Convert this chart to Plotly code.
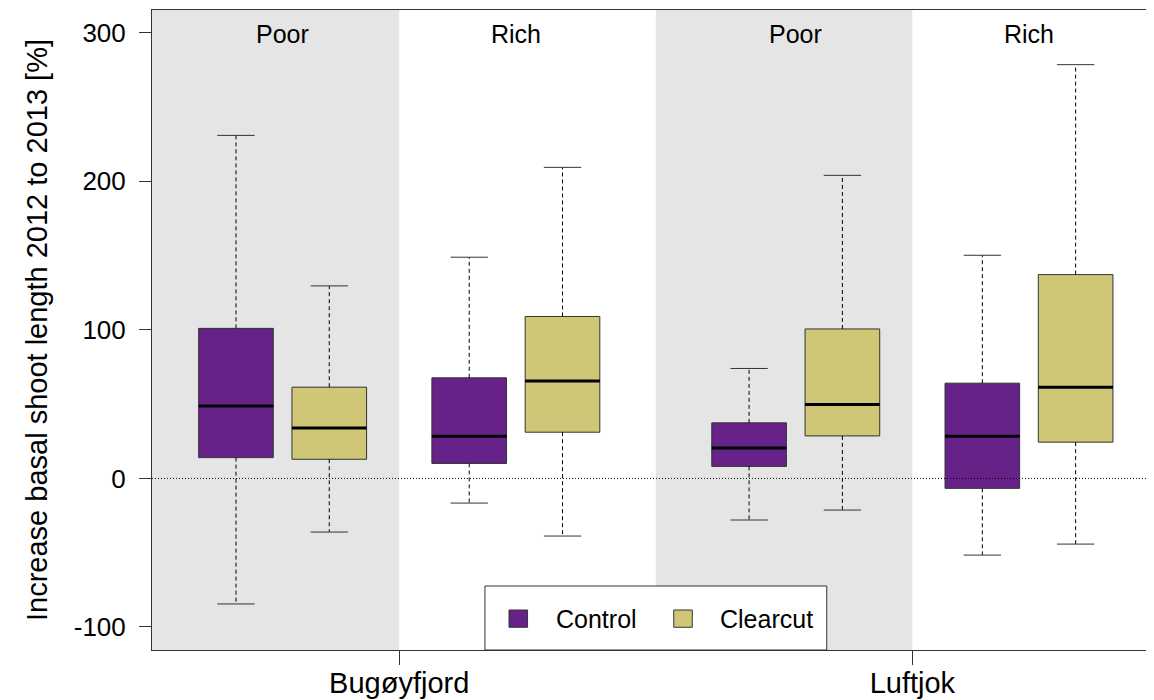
import plotly.graph_objects as go

# ---------------- data ----------------
sites = ["Bugøyfjord", "Luftjok"]
habitats = ["Poor", "Rich", "Poor", "Rich"]
treatments = ["Control", "Clearcut"]

# box positions (R-style 'at' positions)
pos_control = [1.0, 3.5, 6.5, 9.0]
pos_clearcut = [2.0, 4.5, 7.5, 10.0]

# five-number summaries, order: Bugøyfjord Poor, Bugøyfjord Rich, Luftjok Poor, Luftjok Rich
ctrl_lower = [-84.5, -16.6, -28.0, -51.6]
ctrl_q1 = [14.0, 10.1, 8.1, -6.7]
ctrl_median = [48.7, 28.3, 20.5, 28.3]
ctrl_q3 = [101.0, 67.7, 37.4, 64.1]
ctrl_upper = [230.9, 148.9, 74.0, 150.2]

clr_lower = [-36.1, -38.8, -21.3, -44.2]
clr_q1 = [12.9, 31.1, 28.6, 24.4]
clr_median = [34.0, 65.6, 49.8, 61.4]
clr_q3 = [61.4, 109.0, 100.6, 137.2]
clr_upper = [129.6, 209.4, 204.0, 278.5]

y_ticks = [-100, 0, 100, 200, 300]
y_ticktext = ["-100", "0", "100", "200", "300"]

# ---------------- style ----------------
FONT = "Liberation Sans, Arial, sans-serif"
FS = 25
PURPLE = "#662288"
YELLOW = "#CFC775"
EDGE = "#333333"
BOXW = 0.8
CAPW = 0.4

fig = go.Figure()

def add_series(pos, lo, q1, med, q3, hi, color, name):
    fig.add_trace(go.Box(
        x=pos, q1=q1, median=med, q3=q3, lowerfence=q1, upperfence=q3,
        width=BOXW, fillcolor=color, line=dict(color=EDGE, width=1),
        boxpoints=False, whiskerwidth=0, name=name, showlegend=False,
        hoverinfo="skip",
    ))
    wx, wy, cx, cy, mx, my = [], [], [], [], [], []
    for p, a, b, m, c, d in zip(pos, lo, q1, med, q3, hi):
        wx += [p, p, None, p, p, None]
        wy += [c, d, None, b, a, None]
        cx += [p - CAPW / 2, p + CAPW / 2, None, p - CAPW / 2, p + CAPW / 2, None]
        cy += [d, d, None, a, a, None]
        mx += [p - BOXW / 2, p + BOXW / 2, None]
        my += [m, m, None]
    fig.add_trace(go.Scatter(x=wx, y=wy, mode="lines", showlegend=False, hoverinfo="skip",
                             line=dict(color="black", width=1, dash="4px,3px")))
    fig.add_trace(go.Scatter(x=cx, y=cy, mode="lines", showlegend=False, hoverinfo="skip",
                             line=dict(color=EDGE, width=1)))
    fig.add_trace(go.Scatter(x=mx, y=my, mode="lines", showlegend=False, hoverinfo="skip",
                             line=dict(color="black", width=3)))

add_series(pos_control, ctrl_lower, ctrl_q1, ctrl_median, ctrl_q3, ctrl_upper, PURPLE, treatments[0])
add_series(pos_clearcut, clr_lower, clr_q1, clr_median, clr_q3, clr_upper, YELLOW, treatments[1])

XMIN, XMAX = 0.1, 10.84
# group boundaries and label positions derived from box positions
all_pos = [p for pair in zip(pos_control, pos_clearcut) for p in pair]
bounds = [XMIN] + [(all_pos[2 * i + 1] + all_pos[2 * i + 2]) / 2 for i in range(3)] + [XMAX]
hab_centers = [(a + b) / 2 for a, b in zip(pos_control, pos_clearcut)]
site_centers = [bounds[1], bounds[3]]

shapes = []
for i in (0, 2):
    shapes.append(dict(type="rect", xref="x", yref="paper", x0=bounds[i], x1=bounds[i + 1],
                       y0=0, y1=1, fillcolor="#E5E5E5", line=dict(width=0), layer="below"))
shapes.append(dict(type="line", xref="paper", yref="y", x0=0, x1=1, y0=0, y1=0,
                   line=dict(color="black", width=1, dash="1px,2px"), layer="above"))

# legend (drawn manually in R style)
L0, L1 = 0.3323, 0.6734
shapes.append(dict(type="rect", xref="paper", yref="paper", x0=L0, x1=L1, y0=0, y1=0.1,
                   fillcolor="white", line=dict(color=EDGE, width=1), layer="above"))
sq = [(0.3563, PURPLE), (0.5207, YELLOW)]
for x0, col in sq:
    shapes.append(dict(type="rect", xref="paper", yref="paper", x0=x0, x1=x0 + 0.0185,
                       y0=0.0355, y1=0.0625, fillcolor=col, line=dict(color=EDGE, width=1),
                       layer="above"))

annotations = []
for xc, h in zip(hab_centers, habitats):
    annotations.append(dict(x=xc, y=1, xref="x", yref="paper", text=h, showarrow=False,
                            yanchor="top", yshift=-8, font=dict(family=FONT, size=FS, color="black")))
for xt, t in zip([0.4012, 0.5649], treatments):
    annotations.append(dict(x=xt, y=0.0484, xref="paper", yref="paper", text=t, showarrow=False,
                            xanchor="left", yanchor="middle",
                            font=dict(family=FONT, size=FS, color="black")))

fig.update_layout(
    width=1146, height=692,
    margin=dict(l=144, r=0, t=2, b=50, autoexpand=False),
    paper_bgcolor="white", plot_bgcolor="white",
    font=dict(family=FONT, size=FS, color="black"),
    shapes=shapes, annotations=annotations, showlegend=False,
    xaxis=dict(range=[XMIN, XMAX], tickvals=site_centers, ticktext=sites,
               ticks="outside", ticklen=14, tickcolor=EDGE, showgrid=False, zeroline=False,
               showline=True, mirror=True, linecolor=EDGE, linewidth=1,
               ticklabelstandoff=-7,
               automargin=False, tickfont=dict(family=FONT, size=29)),
    yaxis=dict(range=[-115.5, 315.3], tickvals=y_ticks, ticktext=y_ticktext,
               ticks="outside", ticklen=12,
               tickcolor=EDGE, showgrid=False, zeroline=False, showline=True,
               linecolor=EDGE, linewidth=1, ticklabelstandoff=8, automargin=False,
               tickfont=dict(family=FONT, size=26),
               title=dict(text="Increase basal shoot length 2012 to 2013 [%]",
                          font=dict(family=FONT, size=29), standoff=17)),
)

fig.write_html("out.html")
